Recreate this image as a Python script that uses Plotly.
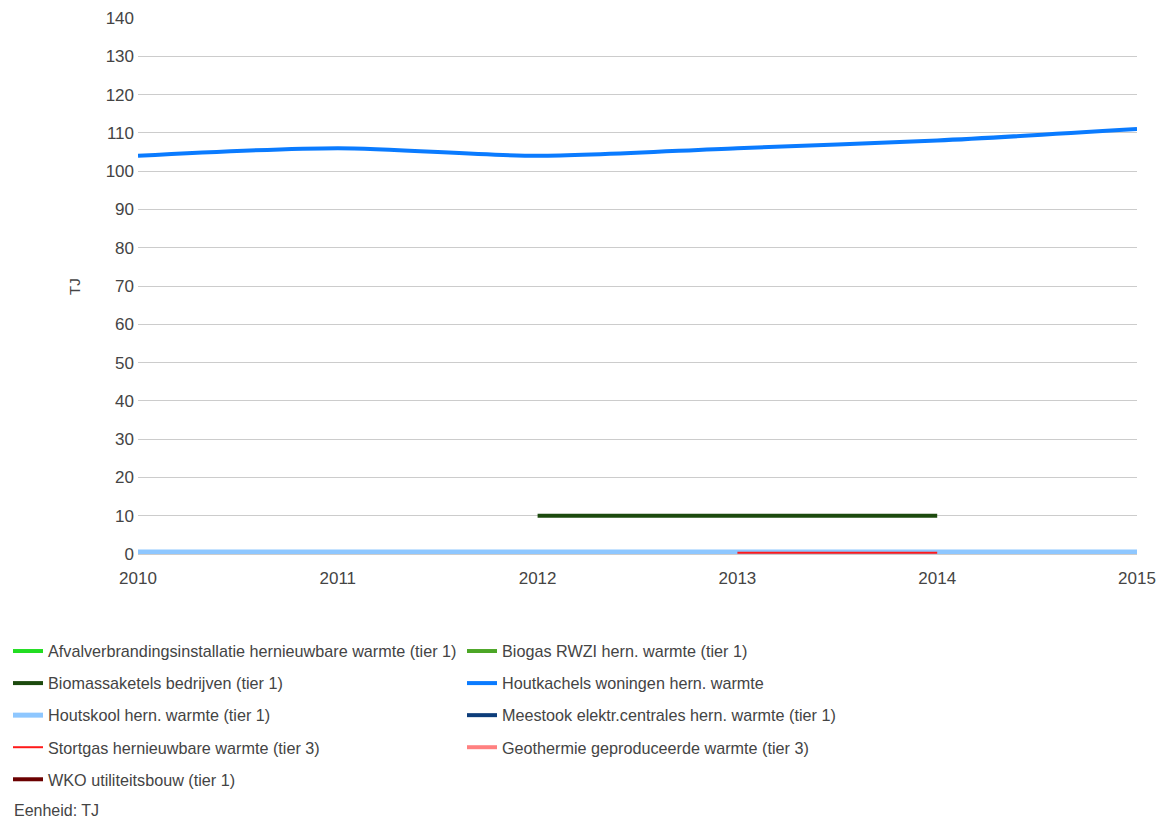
import plotly.graph_objects as go

years = [2010, 2011, 2012, 2013, 2014, 2015]

afval = [None, None, None, None, None, None]
biogas = [None, None, None, None, None, None]
biomassa = [None, None, 10, 10, 10, None]
houtkachels = [104, 106, 104, 106, 108, 111]
houtskool = [0.5, 0.5, 0.5, 0.5, 0.5, 0.5]
meestook = [None, None, None, None, None, None]
stortgas = [None, None, None, 0.3, 0.3, None]
geothermie = [None, None, None, None, None, None]
wko = [None, None, None, None, None, None]

series = [
    ("Afvalverbrandingsinstallatie hernieuwbare warmte (tier 1)", afval, "#22dd22", 4, "legend"),
    ("Biogas RWZI hern. warmte (tier 1)", biogas, "#4ca626", 4, "legend2"),
    ("Biomassaketels bedrijven (tier 1)", biomassa, "#1c4a0e", 4, "legend"),
    ("Houtkachels woningen hern. warmte", houtkachels, "#0a7bff", 4, "legend2"),
    ("Houtskool hern. warmte (tier 1)", houtskool, "#8ec7ff", 5, "legend"),
    ("Meestook elektr.centrales hern. warmte (tier 1)", meestook, "#0d3d7a", 4, "legend2"),
    ("Stortgas hernieuwbare warmte (tier 3)", stortgas, "#ff1a1a", 2, "legend"),
    ("Geothermie geproduceerde warmte (tier 3)", geothermie, "#ff8080", 4, "legend2"),
    ("WKO utiliteitsbouw (tier 1)", wko, "#6b0000", 4, "legend"),
]

FONT = "Liberation Sans Narrow, Arial Narrow, Liberation Sans, Arial, sans-serif"
W, H = 1174, 821
L, R, T, B = 138, 37, 18, 267
PW, PH = W - L - R, H - T - B


def px(x):
    return (x - L) / PW


def py(y):
    return (H - B - y) / PH


fig = go.Figure()
for i, (name, vals, color, width, leg) in enumerate(series):
    fig.add_trace(go.Scatter(
        x=years, y=vals, name=name, mode="lines",
        line=dict(color=color, width=width,
                  shape="spline" if name.startswith("Houtkachels") else "linear",
                  smoothing=0.8),
        legend=leg, legendgroup=f"g{i}",
        connectgaps=False,
    ))

fig.update_layout(
    width=W, height=H,
    paper_bgcolor="white", plot_bgcolor="white",
    margin=dict(l=L, r=R, t=T, b=B, autoexpand=False),
    font=dict(family=FONT, size=16, color="#444444"),
    xaxis=dict(range=[2010, 2015], tickmode="array", tickvals=years,
               ticktext=[str(y) for y in years], showgrid=False,
               zeroline=False, showline=False, ticks="",
               ticklabelstandoff=12,
               tickfont=dict(size=17, color="#444444")),
    yaxis=dict(range=[0, 140], dtick=10, showgrid=True, gridcolor="#cccccc",
               gridwidth=1, zeroline=True, zerolinecolor="#cccccc",
               ticks="", ticklabelstandoff=3,
               tickfont=dict(size=17, color="#444444")),
    legend=dict(orientation="v", xref="container", yref="container",
                x=8 / W, y=1 - 634 / H, xanchor="left", yanchor="top",
                tracegroupgap=8, itemwidth=30,
                font=dict(family=FONT, size=16.2, color="#444444")),
    legend2=dict(orientation="v", xref="container", yref="container",
                 x=462 / W, y=1 - 634 / H, xanchor="left", yanchor="top",
                 tracegroupgap=8, itemwidth=30,
                 font=dict(family=FONT, size=16.2, color="#444444")),
    showlegend=True,
)

fig.add_annotation(text="TJ", xref="paper", yref="paper",
                   x=px(74), y=py(287), textangle=-90,
                   xanchor="center", yanchor="middle", showarrow=False,
                   font=dict(family=FONT, size=15, color="#444444"))

fig.add_annotation(text="Eenheid: TJ", xref="paper", yref="paper",
                   x=px(12), y=py(810), xanchor="left",
                   yanchor="middle", showarrow=False,
                   font=dict(family=FONT, size=16, color="#444444"))

fig.write_html("out.html", config={"displayModeBar": False},
               post_script="document.body.style.margin='0';document.body.style.padding='0';document.body.style.overflow='hidden';")
